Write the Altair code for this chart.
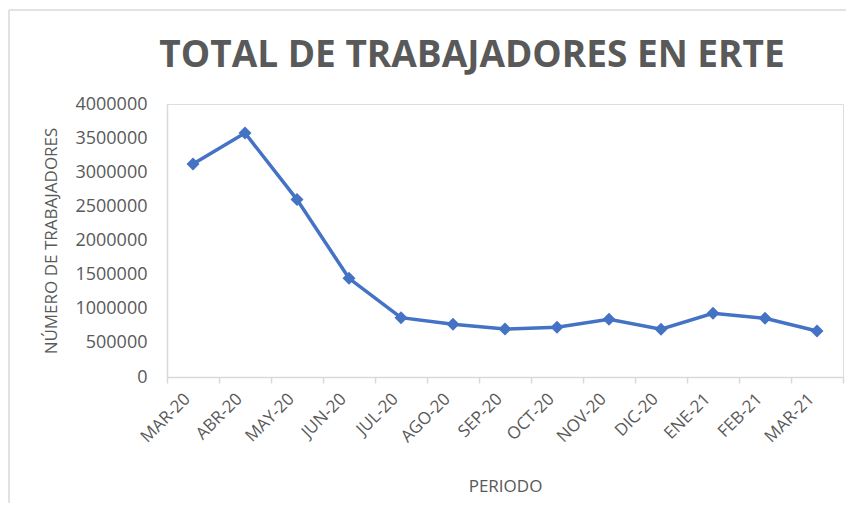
import altair as alt
import pandas as pd

periods = ["MAR-20", "ABR-20", "MAY-20", "JUN-20", "JUL-20", "AGO-20", "SEP-20",
           "OCT-20", "NOV-20", "DIC-20", "ENE-21", "FEB-21", "MAR-21"]
workers = [3120000, 3575000, 2600000, 1446000, 869000, 772000, 703000,
           728000, 845000, 699000, 933000, 860000, 674000]
y_ticks = [0, 500000, 1000000, 1500000, 2000000, 2500000, 3000000, 3500000, 4000000]

df = pd.DataFrame({"periodo": periods, "trabajadores": workers})

BLUE = "#4472C4"
GRAY = "#595959"
LINE = "#D9D9D9"
FONT = "Open Sans"

x_enc = alt.X(
    "periodo:N", sort=periods,
    scale=alt.Scale(type="band", paddingInner=0, paddingOuter=0),
    axis=alt.Axis(
        title="PERIODO", titleFont=FONT, titleFontSize=17, titleFontWeight="normal",
        titleColor=GRAY, titlePadding=33,
        labelFont=FONT, labelFontSize=17, labelColor=GRAY, labelAngle=315,
        labelAlign="right", labelBaseline="middle", labelPadding=13, labelOffset=-6,
        domainColor=LINE, domainWidth=1.5, tickColor=LINE, tickWidth=1.5, tickSize=6,
        tickBand="extent", grid=False,
    ),
)
y_enc = alt.Y(
    "trabajadores:Q",
    scale=alt.Scale(domain=[0, 4000000], nice=False),
    axis=alt.Axis(
        title="NÚMERO DE TRABAJADORES", titleFont=FONT, titleFontSize=17,
        titleFontWeight="normal", titleColor=GRAY, titlePadding=14,
        labelFont=FONT, labelFontSize=18, labelColor=GRAY, labelPadding=20,
        values=y_ticks, format="d", ticks=False, tickSize=0, grid=False,
        domainColor=LINE, domainWidth=1.5,
    ),
)

base = alt.Chart(df)
line = base.mark_line(color=BLUE, strokeWidth=3.5).encode(x=x_enc, y=y_enc)
points = base.mark_point(shape="diamond", filled=True, size=170, color=BLUE, opacity=1).encode(
    x=x_enc, y=y_enc
)

frame_df = pd.DataFrame({"a": [0]})
border_left = alt.Chart(frame_df).mark_rule(color=LINE, strokeWidth=1.5).encode(
    x=alt.value(-158), y=alt.value(-94), y2=alt.value(440)
)
border_top = alt.Chart(frame_df).mark_rule(color=LINE, strokeWidth=1.5).encode(
    x=alt.value(-158), x2=alt.value(720), y=alt.value(-94)
)

chart = alt.layer(border_left, border_top, line, points).properties(
    width=676, height=273,
    padding={"left": 159, "top": 96, "right": 3, "bottom": 126},
    autosize=alt.AutoSizeParams(type="none"),
    title=alt.TitleParams(
        "TOTAL DE TRABAJADORES EN ERTE", font=FONT, fontSize=37, fontWeight="bold",
        color=GRAY, anchor="middle", frame="group", dx=-33, offset=-66,
    ),
).configure_view(stroke="transparent", strokeWidth=0).configure(background="white")

chart.save("out.html", embed_options={"renderer": "svg", "actions": False})
